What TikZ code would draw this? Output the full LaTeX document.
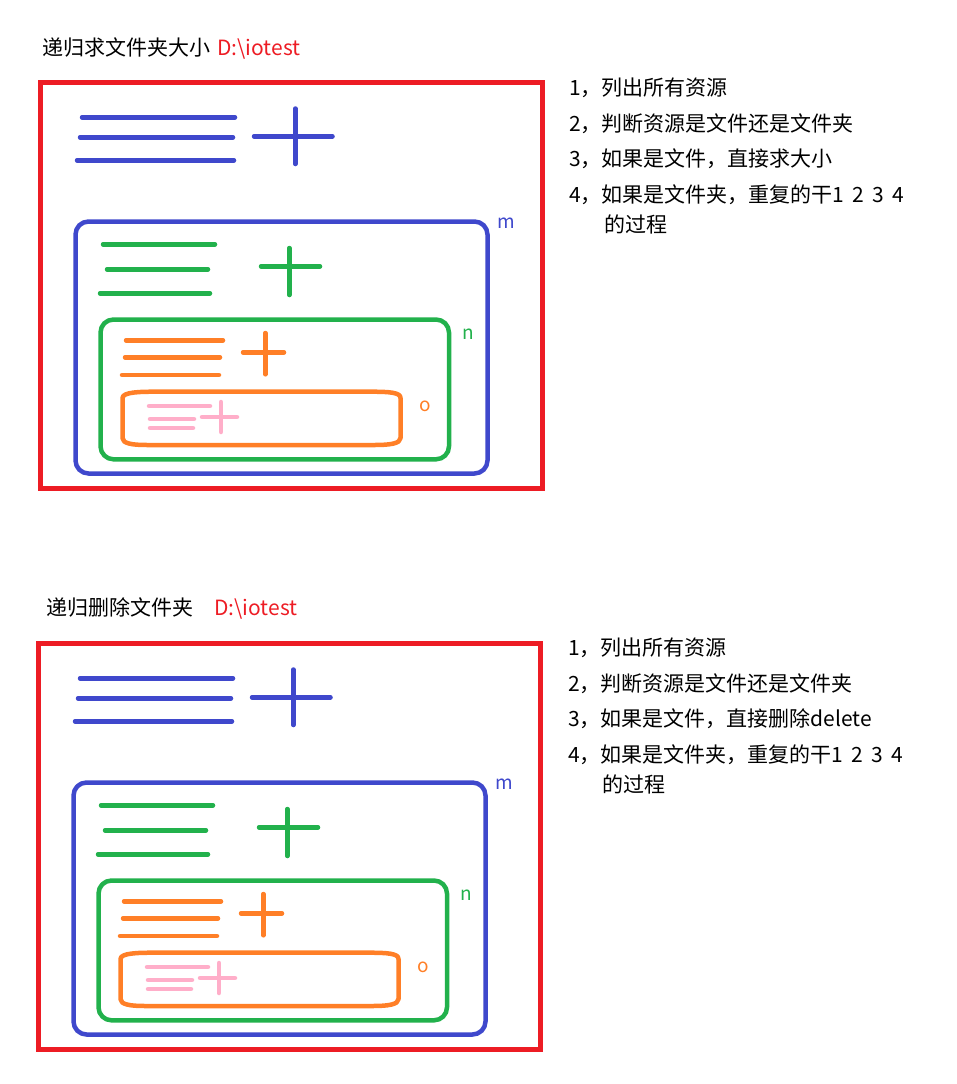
\documentclass[tikz,border=0pt]{standalone}
\usepackage{fontspec}
\newfontfamily\cjk{Noto Sans CJK SC}
\definecolor{paintred}{HTML}{ED1C24}
\definecolor{paintblue}{HTML}{3F48CC}
\definecolor{paintgreen}{HTML}{22B14C}
\definecolor{paintorange}{HTML}{FF7F27}
\definecolor{paintpink}{HTML}{FFAEC9}
\tikzset{
  pen/.style={line width=4.5pt,line cap=round,line join=round},
  note/.style={font=\cjk\fontsize{21}{24}\selectfont,inner sep=0pt,anchor=base west},
  tagtext/.style={font=\cjk\fontsize{19}{22}\selectfont,inner sep=0pt,anchor=base west},
  % one folder panel: file lines + plus sign, nested folders m, n, o
  folders/.pic={
    \draw[line width=5pt,paintred] (40.3,82.5) rectangle (542.5,488.5);
    \draw[pen,paintblue] (82,117.3) -- (235,117.3) (80,137.3) -- (233,137.3)
                         (77,160.3) -- (234,160.3)
                         (254,136.3) -- (332.5,136.3) (295.3,108.5) -- (295.3,164);
    \draw[pen,paintblue,rounded corners=13pt] (75.5,221.5) rectangle (487.5,473.5);
    \node[tagtext,text=paintblue] (-m) at (497,228) {m};
    \draw[pen,paintgreen] (103,244.3) -- (215,244.3) (107,269.3) -- (208,269.3)
                          (100,293.3) -- (210,293.3)
                          (261,266.3) -- (320,266.3) (289.3,248) -- (289.3,295);
    \draw[pen,paintgreen,rounded corners=13pt] (100.5,319.5) rectangle (449,459.3);
    \node[tagtext,text=paintgreen] (-n) at (462,339.3) {n};
    \draw[pen,paintorange] (126,340.3) -- (223,340.3) (125,357.3) -- (220,357.3)
                           (122,375) -- (219,375)
                           (243,352.3) -- (284,352.3) (265.3,333) -- (265.3,374.3);
    \draw[pen,paintorange] (122.5,398) .. controls (122.5,392) and (140,391.7) .. (156,391.7)
      -- (370,391.7) .. controls (390,391.7) and (400.5,392.5) .. (400.5,398)
      -- (400.5,438) .. controls (400.5,443.5) and (390,445) .. (375,445)
      -- (147,445) .. controls (132,445) and (122.5,443.5) .. (122.5,438) -- cycle;
    \node[tagtext,text=paintorange] (-o) at (419,411.7) {o};
    \draw[pen,paintpink] (149,406) -- (210,406) (150,419) -- (194,419)
                         (150,428) -- (193,428)
                         (202,417) -- (237,417) (221,402) -- (221,432);
  }
}

\begin{document}
\begin{tikzpicture}[x=1pt,y=-1pt]
\useasboundingbox (0,0) rectangle (956,1084);

% upper half: folder size
\pic (sizer) at (0,0) {folders};
\node[note] (title1) at (42,55) {递归求文件夹大小};
\node[note,text=paintred] (path1) at (217,55) {D:\textbackslash iotest};
\node[note] (s1) at (569,95) {1，列出所有资源};
\node[note] (s2) at (569,131) {2，判断资源是文件还是文件夹};
\node[note] (s3) at (569,166.5) {3，如果是文件，直接求大小};
\node[note] (s4) at (569,202) {4，如果是文件夹，重复的干1\ \,2\ \,3\ \,4};
\node[note] (s5) at (604,232) {的过程};

% lower half: folder delete
\pic (deleter) at (-2,561) {folders};
\node[note] (title2) at (46,615) {递归删除文件夹};
\node[note,text=paintred] (path2) at (214,615) {D:\textbackslash iotest};
\node[note] (d1) at (568,655) {1，列出所有资源};
\node[note] (d2) at (568,691) {2，判断资源是文件还是文件夹};
\node[note] (d3) at (568,726.5) {3，如果是文件，直接删除delete};
\node[note] (d4) at (568,762) {4，如果是文件夹，重复的干1\ \,2\ \,3\ \,4};
\node[note] (d5) at (602,792) {的过程};
\end{tikzpicture}
\end{document}
